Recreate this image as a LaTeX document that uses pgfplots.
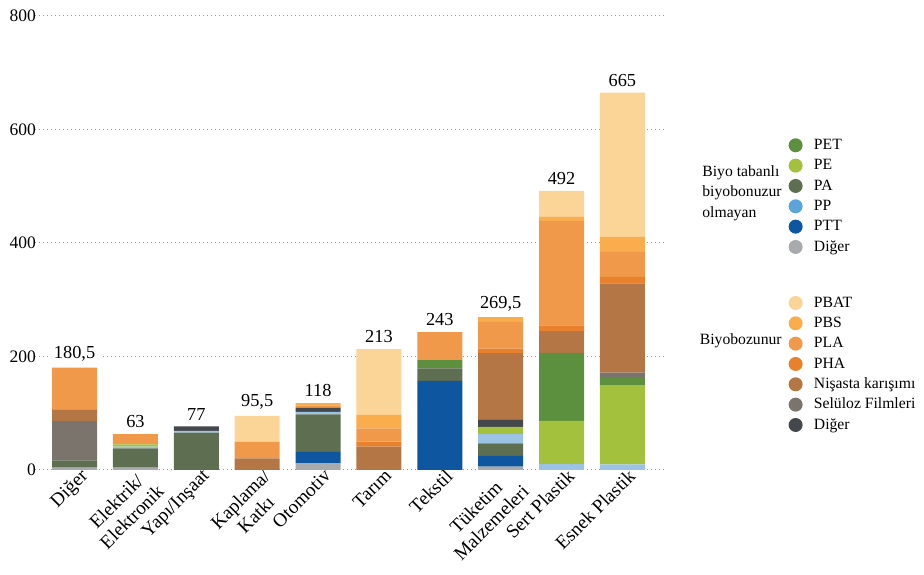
\documentclass[border=0pt]{standalone}
\usepackage{pgfplots}
\usepackage{pgfplotstable}
\usepackage{fontspec}
\setmainfont{Liberation Serif}
\pgfplotsset{compat=1.18}
\definecolor{cPET}{HTML}{5C8F3E}
\definecolor{cPE}{HTML}{A3C13C}
\definecolor{cPA}{HTML}{5E6E51}
\definecolor{cPP}{HTML}{9CC3E4}
\definecolor{cPPleg}{HTML}{5BA4DA}
\definecolor{cPTT}{HTML}{0E56A0}
\definecolor{cDigG}{HTML}{A8AAAD}
\definecolor{cDigD}{HTML}{44474B}
\definecolor{cPBAT}{HTML}{FBD497}
\definecolor{cPBS}{HTML}{F9AD4C}
\definecolor{cPLA}{HTML}{F0994A}
\definecolor{cPHA}{HTML}{E8802C}
\definecolor{cNis}{HTML}{B47644}
\definecolor{cSel}{HTML}{7B746C}
\pgfplotsset{
  dot/.style={legend image code/.code={\fill[##1] (0pt,0pt) circle (4.2pt);}, fill=#1, draw=none},
  base/.style={at={(21pt,63pt)}, anchor=south west, scale only axis,
    width=378pt, height=272.4pt, xmin=-0.65, xmax=9.7, ymin=0, ymax=800},
  legst/.style={legend style={draw=none, fill=none, inner sep=0pt,
    font=\fontsize{9.4}{11}\selectfont,
    nodes={inner sep=1pt, text height=7.6pt, text depth=2.6pt},
    /tikz/every odd column/.append style={column sep=5.8pt}},
    legend cell align=left}
}
\pgfplotstableread{
x DigG PTT PA PP PE PET DigD Sel Nis PHA PLA PBS PBAT tot lab
0 4 0 13 0 0 0 0 69 21 0 73.5 0 0 180.5 180,5
1 4 0 34 3 4 0 0 0 0 0 18 0 0 63 63
2 0 0 66 3 0 0 8 0 0 0 0 0 0 77 77
3 0 0 0 0 0 0 0 0 20.5 0 29 0 46 95.5 95,5
4 12 20 66 4.5 0 0 7 0 0 0 4.5 4 0 118 118
5 0 0 0 0 0 0 0 0 41 9 23.5 23.5 116 213 213
6 0 157 22 0 0 14.5 0 0 0 0 49.5 0 0 243 243
7 6 19 22 16 13 0 13 0 117 8 47 8.5 0 269.5 269,5
8 0 0 0 10.5 76 120 0 0 38 10.5 184 7 46 492 492
9 0 0 0 10 138.5 15 0 8 157.5 11.5 44 26.5 254 665 665
}\data
\begin{document}
\begin{tikzpicture}
\useasboundingbox (0,0) rectangle (554.4pt,345pt);
\begin{axis}[base,
  ybar stacked, bar width=27pt, clip=false,
  axis line style={draw=none}, tick style={draw=none},
  ytick={0,200,400,600,800},
  ymajorgrids, grid style={dotted, line width=0.6pt, gray!80},
  xtick={0,...,9},
  xticklabels={Diğer,{Elektrik/\\Elektronik},Yapı/Inşaat,{Kaplama/\\Katkı},Otomotiv,Tarım,Tekstil,{Tüketim\\Malzemeleri},Sert Plastik,Esnek Plastik},
  x tick label style={rotate=45, anchor=north east, align=center, font=\fontsize{11.5}{13}\selectfont, inner sep=1pt, xshift=4pt},
  y tick label style={font=\fontsize{10.5}{12}\selectfont, xshift=4pt},
  /pgf/number format/assume math mode=true,
  every axis plot/.append style={draw=none},
]
\addplot[fill=cDigG, forget plot] table[x=x,y=DigG]{\data};
\addplot[fill=cPTT, forget plot] table[x=x,y=PTT]{\data};
\addplot[fill=cPA, forget plot] table[x=x,y=PA]{\data};
\addplot[fill=cPP, forget plot] table[x=x,y=PP]{\data};
\addplot[fill=cPE, forget plot] table[x=x,y=PE]{\data};
\addplot[fill=cPET, forget plot] table[x=x,y=PET]{\data};
\addplot[fill=cDigD, forget plot] table[x=x,y=DigD]{\data};
\addplot[fill=cSel, forget plot] table[x=x,y=Sel]{\data};
\addplot[fill=cNis, forget plot] table[x=x,y=Nis]{\data};
\addplot[fill=cPHA, forget plot] table[x=x,y=PHA]{\data};
\addplot[fill=cPLA, forget plot] table[x=x,y=PLA]{\data};
\addplot[fill=cPBS, forget plot] table[x=x,y=PBS]{\data};
\addplot[fill=cPBAT, forget plot] table[x=x,y=PBAT]{\data};
\node[anchor=west, align=left, font=\fontsize{9.4}{12.4}\selectfont] at (rel axis cs:1.050,0.61) {Biyo tabanlı\\biyobonuzur\\olmayan};
\node[anchor=west, font=\fontsize{9.4}{12.4}\selectfont] at (rel axis cs:1.046,0.284) {Biyobozunur};
\end{axis}
\begin{axis}[base, hide axis, clip=false]
\addplot[draw=none, mark=none, forget plot, point meta=explicit symbolic,
  nodes near coords, every node near coord/.append style={font=\fontsize{11}{13}\selectfont, anchor=south, yshift=0.5pt, text=black, fill=white, inner sep=3pt}]
  table[x=x, y=tot, meta=lab]{\data};
\end{axis}
\begin{axis}[base, hide axis, legst,
  legend style={at={(1.1957,0.7383)}, anchor=north west}]
\addlegendimage{dot=cPET}\addlegendentry{PET}
\addlegendimage{dot=cPE}\addlegendentry{PE}
\addlegendimage{dot=cPA}\addlegendentry{PA}
\addlegendimage{dot=cPPleg}\addlegendentry{PP}
\addlegendimage{dot=cPTT}\addlegendentry{PTT}
\addlegendimage{dot=cDigG}\addlegendentry{Diğer}
\end{axis}
\begin{axis}[base, hide axis, legst,
  legend style={at={(1.1957,0.391)}, anchor=north west}]
\addlegendimage{dot=cPBAT}\addlegendentry{PBAT}
\addlegendimage{dot=cPBS}\addlegendentry{PBS}
\addlegendimage{dot=cPLA}\addlegendentry{PLA}
\addlegendimage{dot=cPHA}\addlegendentry{PHA}
\addlegendimage{dot=cNis}\addlegendentry{Nişasta karışımı}
\addlegendimage{dot=cSel}\addlegendentry{Selüloz Filmleri}
\addlegendimage{dot=cDigD}\addlegendentry{Diğer}
\end{axis}
\end{tikzpicture}
\end{document}
